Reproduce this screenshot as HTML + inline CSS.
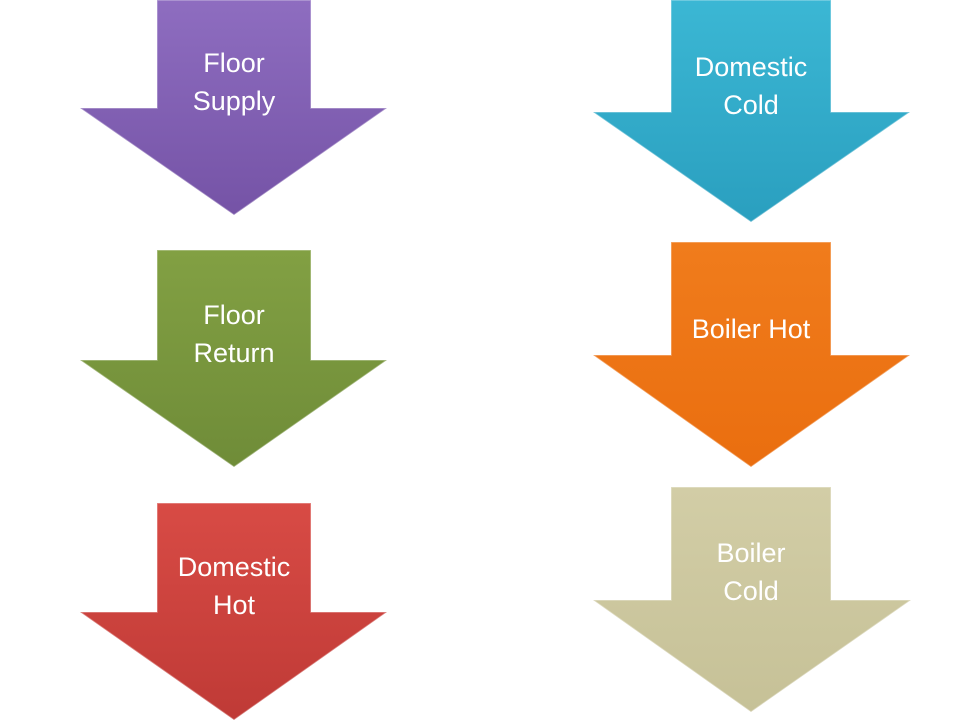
<!DOCTYPE html>
<html><head><style>
html,body{margin:0;padding:0;background:#fff;}
svg{display:block;}
text{font-family:"Liberation Sans",sans-serif;font-size:27px;fill:#fff;text-anchor:middle;}
</style></head><body>
<svg width="960" height="720" viewBox="0 0 960 720">
<defs>
<linearGradient id="g1" x1="0" y1="0" x2="0" y2="1"><stop offset="0" stop-color="#8e6dc0"/><stop offset="1" stop-color="#7553a6"/></linearGradient>
<linearGradient id="g2" x1="0" y1="0" x2="0" y2="1"><stop offset="0" stop-color="#82a043"/><stop offset="1" stop-color="#6f8c38"/></linearGradient>
<linearGradient id="g3" x1="0" y1="0" x2="0" y2="1"><stop offset="0" stop-color="#d84b45"/><stop offset="1" stop-color="#bf3a36"/></linearGradient>
<linearGradient id="g4" x1="0" y1="0" x2="0" y2="1"><stop offset="0" stop-color="#3bb7d4"/><stop offset="1" stop-color="#2a9fbf"/></linearGradient>
<linearGradient id="g5" x1="0" y1="0" x2="0" y2="1"><stop offset="0" stop-color="#f07c1c"/><stop offset="1" stop-color="#ea6e0f"/></linearGradient>
<linearGradient id="g6" x1="0" y1="0" x2="0" y2="1"><stop offset="0" stop-color="#d2cda6"/><stop offset="1" stop-color="#c6c197"/></linearGradient>
</defs>
<g stroke="rgba(255,255,255,0.35)" stroke-width="1.5">
<polygon fill="url(#g1)" points="157,0 311,0 311,108 387,108 234,215 80,108 157,108"/>
<polygon fill="url(#g2)" points="157,250 311,250 311,360 387,360 234,467 80,360 157,360"/>
<polygon fill="url(#g3)" points="157,503 311,503 311,612 387,612 234,720 80,612 157,612"/>
<polygon fill="url(#g4)" points="671,0 831,0 831,112 910,112 751,222 593,112 671,112"/>
<polygon fill="url(#g5)" points="671,242 831,242 831,355 910,355 751,467 593,355 671,355"/>
<polygon fill="url(#g6)" points="671,487 831,487 831,600 911,600 751,712 593,600 671,600"/>
</g>
<text x="234" y="72">Floor</text><text x="234" y="110">Supply</text>
<text x="234" y="324">Floor</text><text x="234" y="362">Return</text>
<text x="234" y="576">Domestic</text><text x="234" y="614">Hot</text>
<text x="751" y="76">Domestic</text><text x="751" y="114">Cold</text>
<text x="751" y="338">Boiler Hot</text>
<text x="751" y="562">Boiler</text><text x="751" y="600">Cold</text>
</svg>
</body></html>
